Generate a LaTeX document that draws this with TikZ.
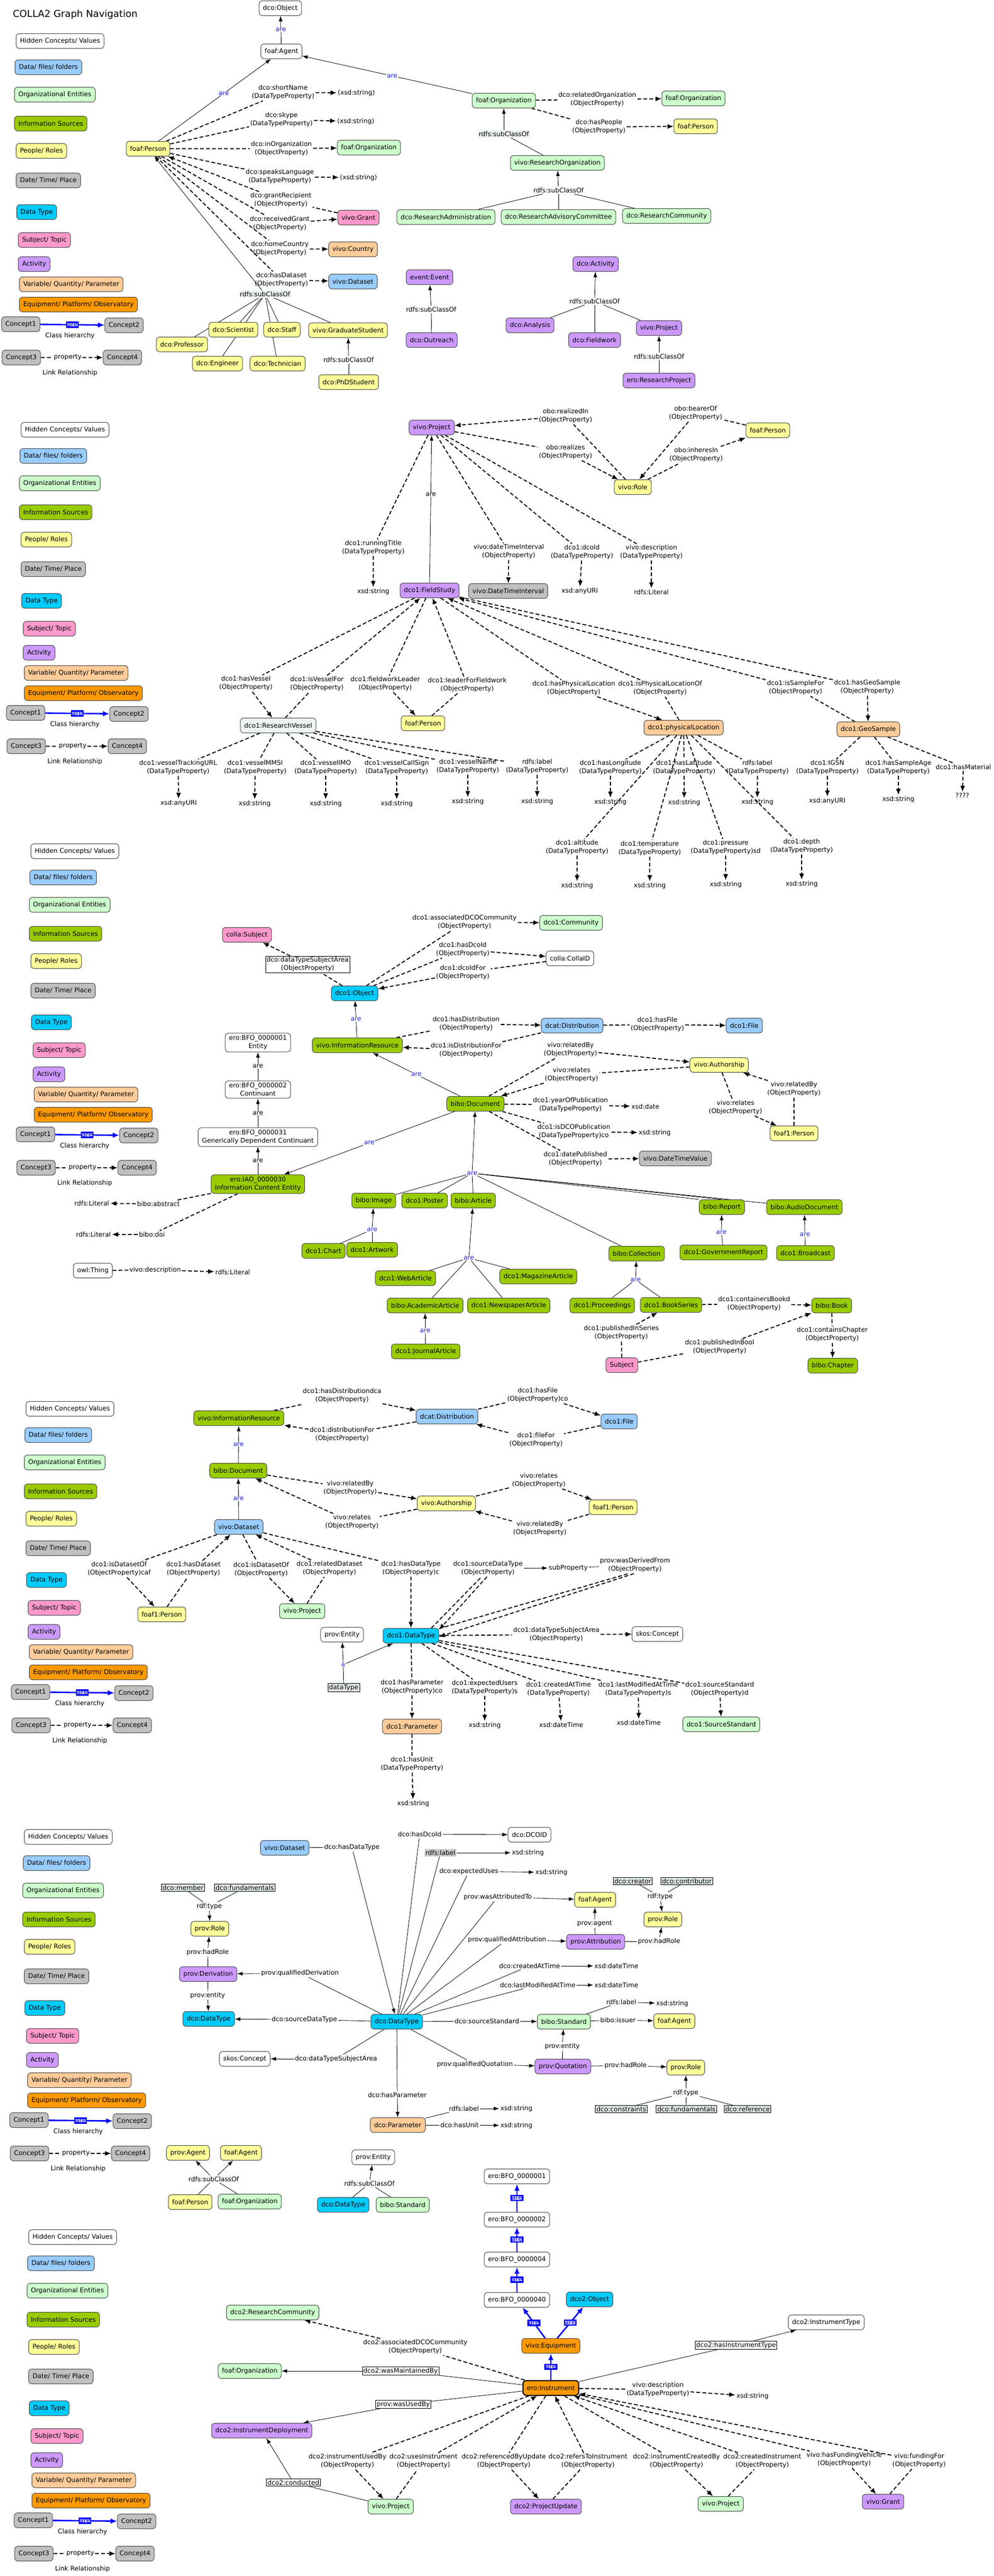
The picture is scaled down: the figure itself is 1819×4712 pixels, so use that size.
\documentclass[tikz,border=0pt]{standalone}
\usepackage{fontspec}
\setmainfont{DejaVu Sans}
\usetikzlibrary{arrows.meta,backgrounds}
\definecolor{cData}{HTML}{99CCFF}
\definecolor{cOrg}{HTML}{CCFFCC}
\definecolor{cInfo}{HTML}{99CC00}
\definecolor{cPeople}{HTML}{FFFF99}
\definecolor{cDate}{HTML}{C0C0C0}
\definecolor{cType}{HTML}{00CCFF}
\definecolor{cSubj}{HTML}{FF99CC}
\definecolor{cAct}{HTML}{CC99FF}
\definecolor{cVar}{HTML}{FFCC99}
\definecolor{cEquip}{HTML}{FF9900}
\definecolor{cTag}{HTML}{E4ECEC}
\definecolor{cVessel}{HTML}{EEF4F4}
\definecolor{cAre}{HTML}{2222DD}

% colour key, repeated beside every part
\newcommand{\colorkey}[3]{%
\begin{scope}[shift={(#2,#3)}]
\node[hid, anchor=west] (#1a) at (29,0) {Hidden Concepts/ Values};
\node[dat, anchor=west] (#1b) at (27,48) {Data/ files/ folders};
\node[org, anchor=west] (#1c) at (26,98) {Organizational Entities};
\node[inf, anchor=west] (#1d) at (26,151) {Information Sources};
\node[ppl, anchor=west] (#1e) at (29,201) {People/ Roles};
\node[dte, anchor=west] (#1f) at (29,255) {Date/ Time/ Place};
\node[dty, anchor=west] (#1g) at (30,313) {Data Type};
\node[sbj, anchor=west] (#1h) at (33,364) {Subject/ Topic};
\node[act, anchor=west] (#1i) at (33,408) {Activity};
\node[var, anchor=west] (#1j) at (35,445) {Variable/ Quantity/ Parameter};
\node[eqp, anchor=west] (#1k) at (35,482) {Equipment/ Platform/ Observatory};
\node[dte] (#1c1) at (38,518) {Concept1};
\node[dte] (#1c2) at (227,520) {Concept2};
\draw[ba] (#1c1) -- node[arebox] {are} (#1c2);
\node (#1ch) at (128,539) {Class hierarchy};
\node[dte] (#1c3) at (39,579) {Concept3};
\node[dte] (#1c4) at (224,579) {Concept4};
\node[lbl] (#1p) at (124,579) {property};
\draw[pl] (#1c3) -- (#1p);
\draw[pa] (#1p) -- (#1c4);
\node (#1lr) at (128,607) {Link Relationship};
\end{scope}}

\begin{document}
\begin{tikzpicture}[x=1pt, y=-1pt, every node/.style={font=\fontsize{11.8}{15}\selectfont}]
\tikzset{
  nbox/.style={draw=black!70, line width=1pt, rounded corners=6pt, minimum height=27pt, inner xsep=7pt, inner ysep=4pt, align=center},
  hid/.style={nbox, fill=white},
  dat/.style={nbox, fill=cData},
  org/.style={nbox, fill=cOrg},
  inf/.style={nbox, fill=cInfo},
  ppl/.style={nbox, fill=cPeople},
  dte/.style={nbox, fill=cDate},
  dty/.style={nbox, fill=cType},
  sbj/.style={nbox, fill=cSubj},
  act/.style={nbox, fill=cAct},
  var/.style={nbox, fill=cVar},
  eqp/.style={nbox, fill=cEquip},
  lbl/.style={align=center, inner sep=2pt},
  tagbox/.style={draw, line width=.6pt, fill=cTag, inner sep=2pt, align=center},
  arelbl/.style={text=cAre, fill=white, inner sep=1pt},
  arebox/.style={draw=blue, fill=blue!15, text=blue, inner sep=1pt},
  pl/.style={line width=1.8pt, dash pattern=on 7pt off 4pt},
  pa/.style={pl, -{Latex[length=11pt,width=9pt]}},
  sl/.style={line width=.8pt},
  sa/.style={sl, -{Latex[length=10pt,width=7pt]}},
  ba/.style={line width=2.6pt, blue, -{Latex[length=12pt,width=10pt]}},
}
\useasboundingbox (0,0) rectangle (1819,4712);
\begin{scope}[on background layer]
\fill[white] (0,0) rectangle (1819,4712);
\end{scope}

% ---- part 1: agents and organizations ----
\node[anchor=west, font=\fontsize{17.5}{21}\selectfont] (title) at (20,27) {COLLA2 Graph Navigation};
\colorkey{k1}{0}{75}
\node[hid] (obj) at (513,15) {dco:Object};
\node[hid] (agent) at (515,94) {foaf:Agent};
\node[ppl] (person) at (271,272) {foaf:Person};
\node[org] (orga) at (922,184) {foaf:Organization};
\node[lbl] (lShort) at (518,169) {dco:shortName\\(DataTypeProperty)};
\node[lbl] (sShort) at (652,170) {(xsd:string)};
\node[lbl] (lSkype) at (515,219) {dco:skype\\(DataTypeProperty)};
\node[lbl] (sSkype) at (651,222) {(xsd:string)};
\node[lbl] (lInOrg) at (515,272) {dco:inOrganization\\(ObjectProperty)};
\node[org] (orgb) at (675,270) {foaf:Organization};
\node[lbl] (lSpeak) at (512,323) {dco:speaksLanguage\\(DataTypeProperty)};
\node[lbl] (sSpeak) at (656,325) {(xsd:string)};
\node[lbl] (lGrantR) at (514,366) {dco:grantRecipient\\(ObjectProperty)};
\node[sbj] (grant) at (656,398) {vivo:Grant};
\node[lbl] (lRecv) at (512,409) {dco:receivedGrant\\(ObjectProperty)};
\node[lbl] (lHome) at (512,455) {dco:homeCountry\\(ObjectProperty)};
\node[var] (country) at (646,456) {vivo:Country};
\node[lbl] (lHasDS) at (515,512) {dco:hasDataset\\(ObjectProperty)};
\node[dat] (dataset) at (646,515) {vivo:Dataset};
\node[lbl, fill=cVessel] (lSub1) at (485,538) {rdfs:subClassOf};
\node[ppl] (sci) at (427,603) {dco:Scientist};
\node[ppl] (staff) at (516,603) {dco:Staff};
\node[ppl] (grad) at (637,604) {vivo:GraduateStudent};
\node[ppl] (prof) at (333,630) {dco:Professor};
\node[ppl] (eng) at (398,665) {dco:Engineer};
\node[ppl] (tech) at (508,665) {dco:Technician};
\node[lbl] (lSub2) at (638,658) {rdfs:subClassOf};
\node[ppl] (phd) at (638,699) {dco:PhDStudent};
\node[lbl, fill=cVessel] (lSub3) at (922,245) {rdfs:subClassOf};
\node[org] (ro) at (1020,298) {vivo:ResearchOrganization};
\node[lbl] (lSub4) at (1022,348) {rdfs:subClassOf};
\node[org] (radm) at (816,397) {dco:ResearchAdministration};
\node[org] (radv) at (1022,397) {dco:ResearchAdvisoryCommittee};
\node[org] (rcom) at (1220,395) {dco:ResearchCommunity};
\node[lbl] (lRelOrg) at (1093,182) {dco:relatedOrganization\\(ObjectProperty)};
\node[org] (orgc) at (1269,180) {foaf:Organization};
\node[lbl] (lPeople) at (1096,232) {dco:hasPeople\\(ObjectProperty)};
\node[ppl] (personb) at (1273,231) {foaf:Person};
\node[act] (activ) at (1090,483) {dco:Activity};
\node[lbl] (lSub5) at (1088,551) {rdfs:subClassOf};
\node[act] (ana) at (970,595) {dco:Analysis};
\node[act] (fw) at (1088,622) {dco:Fieldwork};
\node[act] (projA) at (1206,600) {vivo:Project};
\node[lbl] (lSub6) at (1206,652) {rdfs:subClassOf};
\node[act] (rproj) at (1206,696) {ero:ResearchProject};
\node[act] (event) at (786,507) {event:Event};
\node[lbl] (lSub7) at (789,566) {rdfs:subClassOf};
\node[act] (outr) at (790,622) {dco:Outreach};

% ---- part 2: projects and field studies ----
\colorkey{k2}{9}{786}
\node[act] (proj) at (790,782) {vivo:Project};
\node[lbl] (lRealIn) at (1035,761) {obo:realizedIn\\(ObjectProperty)};
\node[lbl] (lReal) at (1035,827) {obo:realizes\\(ObjectProperty)};
\node[ppl] (role) at (1158,891) {vivo:Role};
\node[ppl] (personc) at (1405,787) {foaf:Person};
\node[lbl] (lBearer) at (1273,756) {obo:bearerOf\\(ObjectProperty)};
\node[lbl] (lInheres) at (1274,832) {obo:inheresIn\\(ObjectProperty)};
\node[act] (fs) at (786,1080) {dco1:FieldStudy};
\node[lbl] (lRun) at (683,1002) {dco1:runningTitle\\(DataTypeProperty)};
\node[lbl] (xRun) at (683,1082) {xsd:string};
\node[lbl] (lDTI) at (931,1009) {vivo:dateTimeInterval\\(ObjectProperty)};
\node[dte] (dti) at (930,1081) {vivo:DateTimeInterval};
\node[lbl] (lDcoId) at (1065,1010) {dco1:dcoId\\(DataTypeProperty)};
\node[lbl] (xDcoId) at (1061,1081) {xsd:anyURI};
\node[lbl] (lDesc) at (1192,1010) {vivo:description\\(DataTypeProperty)};
\node[lbl] (xDesc) at (1192,1083) {rdfs:Literal};
\node[lbl] (lHasV) at (450,1250) {dco1:hasVessel\\(ObjectProperty)};
\node[lbl] (lIsVF) at (580,1251) {dco1:isVesselFor\\(ObjectProperty)};
\node[lbl] (lFWL) at (705,1251) {dco1:fieldworkLeader\\(ObjectProperty)};
\node[lbl] (lLFF) at (855,1253) {dco1:leaderForFieldwork\\(ObjectProperty)};
\node[lbl] (lHPL) at (1050,1259) {dco1:hasPhysicalLocation\\(ObjectProperty)};
\node[lbl] (lIPL) at (1208,1259) {dco1:isPhysicalLocationOf\\(ObjectProperty)};
\node[lbl] (lISF) at (1456,1258) {dco1:isSampleFor\\(ObjectProperty)};
\node[lbl] (lHGS) at (1587,1257) {dco1:hasGeoSample\\(ObjectProperty)};
\node[hid, fill=cVessel] (rv) at (509,1327) {dco1:ResearchVessel};
\node[ppl] (persond) at (774,1323) {foaf:Person};
\node[var] (ploc) at (1251,1331) {dco1:physicalLocation};
\node[var] (geo) at (1589,1334) {dco1:GeoSample};
\node[lbl] (lVTU) at (326,1404) {dco1:vesselTrackingURL\\(DataTypeProperty)};
\node[lbl] (xVTU) at (327,1469) {xsd:anyURI};
\node[lbl] (lMMSI) at (467,1404) {dco1:vesselMMSI\\(DataTypeProperty)};
\node[lbl] (xMMSI) at (466,1470) {xsd:string};
\node[lbl] (lIMO) at (596,1404) {dco1:vesselIMO\\(DataTypeProperty)};
\node[lbl] (xIMO) at (596,1470) {xsd:string};
\node[lbl] (lCall) at (726,1404) {dco1:vesselCallSign\\(DataTypeProperty)};
\node[lbl] (xCall) at (726,1470) {xsd:string};
\node[lbl] (lVName) at (856,1402) {dco1:vesselName\\(DataTypeProperty)};
\node[lbl] (xVName) at (856,1466) {xsd:string};
\node[lbl] (lRLa) at (983,1402) {rdfs:label\\(DataTypeProperty)};
\node[lbl] (xRLa) at (983,1466) {xsd:string};
\node[lbl] (lLon) at (1117,1404) {dco1:hasLongitude\\(DataTypeProperty)};
\node[lbl] (xLon) at (1117,1467) {xsd:string};
\node[lbl] (lLat) at (1252,1404) {dco1:hasLatitude\\(DataTypeProperty)};
\node[lbl] (xLat) at (1252,1468) {xsd:string};
\node[lbl] (lRLb) at (1386,1404) {rdfs:label\\(DataTypeProperty)};
\node[lbl] (xRLb) at (1386,1467) {xsd:string};
\node[lbl] (lAlt) at (1056,1550) {dco1:altitude\\(DataTypeProperty)};
\node[lbl] (xAlt) at (1056,1620) {xsd:string};
\node[lbl] (lTemp) at (1189,1552) {dco1:temperature\\(DataTypeProperty)};
\node[lbl] (xTemp) at (1189,1620) {xsd:string};
\node[lbl] (lPres) at (1328,1550) {dco1:pressure\\(DataTypeProperty)sd};
\node[lbl] (xPres) at (1328,1618) {xsd:string};
\node[lbl] (lDepth) at (1467,1548) {dco1:depth\\(DataTypeProperty)};
\node[lbl] (xDepth) at (1467,1617) {xsd:string};
\node[lbl] (lIGSN) at (1514,1404) {dco1:IGSN\\(DataTypeProperty)};
\node[lbl] (xIGSN) at (1514,1465) {xsd:anyURI};
\node[lbl] (lAge) at (1644,1404) {dco1:hasSampleAge\\(DataTypeProperty)};
\node[lbl] (xAge) at (1644,1462) {xsd:string};
\node[lbl] (lMat) at (1763,1403) {dco1:hasMaterial};
\node[lbl] (xMat) at (1761,1455) {????};

% ---- part 3: documents ----
\colorkey{k3}{27}{1557}
\node[sbj] (subjC) at (452,1710) {colla:Subject};
\node[tagbox, fill=white] (lDTSA) at (563,1764) {dco:dataTypeSubjectArea\\(ObjectProperty)};
\node[dty] (dobj) at (649,1817) {dco1:Object};
\node[lbl] (lAssoc) at (850,1687) {dco1:associatedDCOCommunity\\(ObjectProperty)};
\node[org] (comm) at (1045,1688) {dco1:Community};
\node[lbl] (lHasDcoId) at (847,1737) {dco1:hasDcoId\\(ObjectProperty)};
\node[hid] (cid) at (1043,1753) {colla:CollaID};
\node[lbl] (lDcoIdFor) at (847,1779) {dco1:dcoIdFor\\(ObjectProperty)};
\node[inf] (ir) at (654,1912) {vivo:InformationResource};
\node[lbl] (lHasDist) at (853,1873) {dco1:hasDistribution\\(ObjectProperty)};
\node[dat] (dist) at (1047,1876) {dcat:Distribution};
\node[lbl] (lHasFile) at (1203,1874) {dco1:hasFile\\(ObjectProperty)};
\node[dat] (fileA) at (1362,1876) {dco1:File};
\node[lbl] (lIsDist) at (853,1921) {dco1:isDistributionFor\\(ObjectProperty)};
\node[hid] (bfoA) at (472,1907) {ero:BFO\_0000001\\Entity};
\node[hid] (bfoB) at (472,1993) {ero:BFO\_0000002\\Continuant};
\node[hid] (bfoC) at (472,2080) {ero:BFO\_0000031\\Generically Dependent Continuant};
\node[inf] (iao) at (472,2166) {ero:IAO\_0000030\\Information Content Entity};
\node[inf] (doc) at (870,2019) {bibo:Document};
\node[lbl] (lRelBy) at (1044,1920) {vivo:relatedBy\\(ObjectProperty)};
\node[ppl] (auth) at (1316,1948) {vivo:Authorship};
\node[lbl] (lRel) at (1046,1966) {vivo:relates\\(ObjectProperty)};
\node[lbl] (lRelBy2) at (1453,1992) {vivo:relatedBy\\(ObjectProperty)};
\node[lbl] (lRel2) at (1346,2026) {vivo:relates\\(ObjectProperty)};
\node[ppl] (fpA) at (1453,2073) {foaf1:Person};
\node[lbl] (lYear) at (1044,2021) {dco1:yearOfPublication\\(DataTypeProperty)};
\node[lbl] (xYear) at (1181,2024) {xsd:date};
\node[lbl] (lIsDCO) at (1050,2070) {dco1:isDCOPublication\\(DataTypeProperty)co};
\node[lbl] (xIsDCO) at (1198,2072) {xsd:string};
\node[lbl] (lDatePub) at (1053,2120) {dco1:datePublished\\(ObjectProperty)};
\node[dte] (dtv) at (1236,2119) {vivo:DateTimeValue};
\node[lbl] (lAbs) at (290,2202) {bibo:abstract};
\node[lbl] (litA) at (168,2201) {rdfs:Literal};
\node[lbl] (lDoi) at (278,2258) {bibo:doi};
\node[lbl] (litD) at (171,2258) {rdfs:Literal};
\node[hid] (owl) at (170,2324) {owl:Thing};
\node[lbl] (lVD) at (284,2323) {vivo:description};
\node[lbl] (litV) at (426,2327) {rdfs:Literal};
\node[arelbl] (hub) at (864,2146) {are};
\node[inf] (img) at (684,2196) {bibo:Image};
\node[inf] (poster) at (777,2196) {dco1:Poster};
\node[inf] (art) at (866,2196) {bibo:Article};
\node[inf] (rep) at (1321,2208) {bibo:Report};
\node[inf] (audio) at (1472,2208) {bibo:AudioDocument};
\node[arelbl] (hubI) at (681,2249) {are};
\node[inf] (chart) at (592,2288) {dco1:Chart};
\node[inf] (artw) at (681,2286) {dco1:Artwork};
\node[arelbl] (hubA) at (858,2301) {are};
\node[inf] (web) at (742,2338) {dco1:WebArticle};
\node[inf] (mag) at (985,2335) {dco1:MagazineArticle};
\node[inf] (acad) at (778,2388) {bibo:AcademicArticle};
\node[inf] (news) at (931,2388) {dco1:NewspaperArticle};
\node[arelbl] (hubJ) at (778,2434) {are};
\node[inf] (jour) at (779,2472) {dco1:JournalArticle};
\node[arelbl] (hubR) at (1320,2254) {are};
\node[inf] (gov) at (1324,2291) {dco1:GovernmentReport};
\node[arelbl] (hubB) at (1473,2258) {are};
\node[inf] (bcast) at (1474,2292) {dco1:Broadcast};
\node[inf] (coll) at (1165,2293) {bibo:Collection};
\node[arelbl] (hubC) at (1163,2341) {are};
\node[inf] (proc) at (1102,2388) {dco1:Proceedings};
\node[inf] (bser) at (1228,2387) {dco1:BookSeries};
\node[lbl] (lConB) at (1380,2385) {dco1:containersBookd\\(ObjectProperty)};
\node[inf] (book) at (1522,2388) {bibo:Book};
\node[lbl] (lConC) at (1523,2441) {dco1:containsChapter\\(ObjectProperty)};
\node[inf] (chap) at (1524,2498) {bibo:Chapter};
\node[lbl] (lPIS) at (1137,2438) {dco1:publishedInSeries\\(ObjectProperty)};
\node[sbj] (subjD) at (1138,2497) {Subject};
\node[lbl] (lPIB) at (1317,2464) {dco1:publishedInBool\\(ObjectProperty)};

% ---- part 4: datasets ----
\colorkey{k4}{18}{2577}
\node[inf] (irB) at (437,2594) {vivo:InformationResource};
\node[lbl] (lHD2) at (626,2553) {dco1:hasDistributiondca\\(ObjectProperty)};
\node[dat] (distB) at (818,2591) {dcat:Distribution};
\node[lbl] (lHF2) at (984,2552) {dco1:hasFile\\(ObjectProperty)co};
\node[dat] (fileB) at (1133,2600) {dco1:File};
\node[lbl] (lDF2) at (626,2624) {dco1:distributionFor\\(ObjectProperty)};
\node[lbl] (lFF2) at (981,2634) {dco1:fileFor\\(ObjectProperty)};
\node[inf] (docB) at (436,2690) {bibo:Document};
\node[dat] (ds) at (437,2793) {vivo:Dataset};
\node[lbl] (lRB3) at (641,2722) {vivo:relatedBy\\(ObjectProperty)};
\node[ppl] (authB) at (817,2750) {vivo:Authorship};
\node[lbl] (lR3) at (644,2784) {vivo:relates\\(ObjectProperty)};
\node[lbl] (lR4) at (986,2708) {vivo:relates\\(ObjectProperty)};
\node[ppl] (fpB) at (1122,2757) {foaf1:Person};
\node[lbl] (lRB4) at (988,2796) {vivo:relatedBy\\(ObjectProperty)};
\node[lbl] (lIDO1) at (218,2870) {dco1:isDatasetOf\\(ObjectProperty)caf};
\node[lbl] (lHDS) at (354,2870) {dco1:hasDataset\\(ObjectProperty)};
\node[lbl] (lIDO2) at (478,2871) {dco1:isDatasetOf\\(ObjectProperty)};
\node[lbl] (lRDS) at (603,2869) {dco1:relatedDataset\\(ObjectProperty)};
\node[lbl] (lHDT) at (752,2869) {dco1:hasDataType\\(ObjectProperty)c};
\node[ppl] (fpC) at (296,2953) {foaf1:Person};
\node[org] (vp) at (553,2947) {vivo:Project};
\node[dty] (dt) at (752,2992) {dco1:DataType};
\node[lbl] (lSDT) at (893,2869) {dco1:sourceDataType\\(ObjectProperty)};
\node[lbl] (lSubP) at (1040,2868) {subProperty};
\node[lbl] (lWDF) at (1162,2863) {prov:wasDerivedFrom\\(ObjectProperty)};
\node[hid] (pent) at (626,2990) {prov:Entity};
\node[tagbox] (dtag) at (629,3087) {dataType};
\node[arelbl] (hubT) at (628,3045) {a};
\node[lbl] (lDTSA2) at (1018,2990) {dco1:dataTypeSubjectArea\\(ObjectProperty)};
\node[hid] (skos) at (1203,2989) {skos:Concept};
\node[lbl] (lHP) at (754,3086) {dco1:hasParameter\\(ObjectProperty)co};
\node[var] (par) at (754,3158) {dco1:Parameter};
\node[lbl] (lEU) at (887,3087) {dco1:expectedUsers\\(DataTypeProperty)s};
\node[lbl] (xEU) at (887,3156) {xsd:string};
\node[lbl] (lCAT) at (1022,3090) {dco1:createdAtTime\\(DataTypeProperty)};
\node[lbl] (xCAT) at (1027,3155) {xsd:dateTime};
\node[lbl] (lLMT) at (1168,3090) {dco1:lastModifiedAtTime\\(DataTypeProperty)s};
\node[lbl] (xLMT) at (1169,3151) {xsd:dateTime};
\node[lbl] (lSS) at (1317,3090) {dco1:sourceStandard\\(ObjectProperty)d};
\node[org] (sstd) at (1320,3154) {dco1:SourceStandard};
\node[lbl] (lHU) at (754,3227) {dco1:hasUnit\\(DataTypeProperty)};
\node[lbl] (xHU) at (756,3299) {xsd:string};

% ---- part 5: data types ----
\colorkey{k5}{15}{3360}
\node[dty] (dtC) at (726,3698) {dco:DataType};
\node[hid] (dcoid) at (969,3356) {dco:DCOID};
\node[lbl] (lHDI) at (768,3355) {dco:hasDcoId};
\node[dat] (vds) at (521,3380) {vivo:Dataset};
\node[lbl] (lHDT5) at (644,3379) {dco:hasDataType};
\node[lbl, fill=black!20] (lRL5) at (806,3389) {rdfs:label};
\node[lbl] (xRL5) at (966,3389) {xsd:string};
\node[lbl] (lEU5) at (858,3423) {dco:expectedUses};
\node[lbl] (xEU5) at (1009,3425) {xsd:string};
\node[lbl] (lWAT) at (911,3470) {prov:wasAttributedTo};
\node[ppl] (faA) at (1089,3475) {foaf:Agent};
\node[act] (attr) at (1090,3552) {prov:Attribution};
\node[lbl] (lAg) at (1088,3519) {prov:agent};
\node[lbl] (lQA) at (928,3548) {prov:qualifiedAttribution};
\node[lbl] (lHR5) at (1206,3551) {prov:hadRole};
\node[ppl] (roleA) at (1213,3511) {prov:Role};
\node[tagbox] (creator) at (1158,3441) {dco:creator};
\node[tagbox] (contrib) at (1257,3441) {dco:contributor};
\node[lbl] (lRT1) at (1208,3469) {rdf:type};
\node[lbl] (lCAT5) at (969,3596) {dco:createdAtTime};
\node[lbl] (xCAT5) at (1128,3596) {xsd:dateTime};
\node[lbl] (lLMT5) at (984,3631) {dco:lastModifiedAtTime};
\node[lbl] (xLMT5) at (1128,3631) {xsd:dateTime};
\node[lbl] (lSS5) at (891,3697) {dco:sourceStandard};
\node[org] (stdA) at (1032,3698) {bibo:Standard};
\node[lbl] (lRL6) at (1137,3662) {rdfs:label};
\node[lbl] (xRL6) at (1230,3665) {xsd:string};
\node[lbl] (lIss) at (1131,3695) {bibo:issuer};
\node[ppl] (faB) at (1234,3697) {foaf:Agent};
\node[act] (quot) at (1030,3780) {prov:Quotation};
\node[lbl] (lEnt) at (1029,3743) {prov:entity};
\node[lbl] (lQQ) at (869,3776) {prov:qualifiedQuotation};
\node[lbl] (lHR6) at (1145,3778) {prov:hadRole};
\node[ppl] (roleB) at (1255,3782) {prov:Role};
\node[lbl] (lRT2) at (1255,3828) {rdf:type};
\node[tagbox] (cons) at (1137,3858) {dco:constraints};
\node[tagbox] (fundB) at (1256,3858) {dco:fundamentals};
\node[tagbox] (refr) at (1368,3858) {dco:reference};
\node[lbl] (lHP5) at (727,3832) {dco:hasParameter};
\node[var] (parB) at (728,3887) {dco:Parameter};
\node[lbl] (lRL7) at (849,3857) {rdfs:label};
\node[lbl] (xRL7) at (945,3857) {xsd:string};
\node[lbl] (lHU5) at (841,3887) {dco:hasUnit};
\node[lbl] (xHU5) at (945,3888) {xsd:string};
\node[hid] (skosB) at (448,3766) {skos:Concept};
\node[lbl] (lDTSA5) at (615,3766) {dco:dataTypeSubjectArea};
\node[dty] (dtL) at (382,3693) {dco:DataType};
\node[lbl] (lSDT5) at (557,3694) {dco:sourceDataType};
\node[act] (deriv) at (381,3611) {prov:Derivation};
\node[lbl] (lQD) at (549,3609) {prov:qualifiedDerivation};
\node[lbl] (lEnt2) at (380,3650) {prov:entity};
\node[lbl] (lHR7) at (380,3571) {prov:hadRole};
\node[ppl] (roleC) at (384,3528) {prov:Role};
\node[lbl] (lRT3) at (383,3487) {rdf:type};
\node[tagbox] (member) at (335,3453) {dco:member};
\node[tagbox] (fundA) at (448,3453) {dco:fundamentals};
\node[ppl] (pag) at (344,3938) {prov:Agent};
\node[ppl] (fag) at (441,3938) {foaf:Agent};
\node[lbl] (lSC8) at (391,3986) {rdfs:subClassOf};
\node[ppl] (fper) at (348,4028) {foaf:Person};
\node[org] (forg) at (457,4027) {foaf:Organization};
\node[hid] (pentB) at (683,3946) {prov:Entity};
\node[lbl] (lSC9) at (676,3994) {rdfs:subClassOf};
\node[dty] (dtB) at (628,4033) {dco:DataType};
\node[org] (stdB) at (737,4033) {bibo:Standard};

% ---- part 6: instruments ----
\colorkey{k6}{23}{4092}
\node[hid] (bA) at (946,3981) {ero:BFO\_0000001};
\node[hid] (bB) at (946,4060) {ero:BFO\_0000002};
\node[hid] (bC) at (946,4133) {ero:BFO\_0000004};
\node[hid] (bD) at (946,4207) {ero:BFO\_0000040};
\node[dty] (objB) at (1079,4206) {dco2:Object};
\node[eqp] (equip) at (1008,4291) {vivo:Equipment};
\node[eqp, line width=2pt, draw=black] (inst) at (1008,4368) {ero:Instrument};
\node[org] (rcB) at (499,4230) {dco2:ResearchCommunity};
\node[lbl] (lAC) at (760,4293) {dco2:associatedDCOCommunity\\(ObjectProperty)};
\node[org] (forgB) at (457,4337) {foaf:Organization};
\node[tagbox, fill=white] (lWM) at (733,4337) {dco2:wasMaintainedBy};
\node[tagbox, fill=white] (lWU) at (738,4398) {prov:wasUsedBy};
\node[act] (idep) at (479,4446) {dco2:InstrumentDeployment};
\node[tagbox, fill=white] (lCond) at (537,4541) {dco2:conducted};
\node[hid] (itype) at (1512,4248) {dco2:InstrumentType};
\node[tagbox, fill=white] (lHIT) at (1347,4290) {dco2:hasInstrumentType};
\node[lbl] (lVD6) at (1204,4371) {vivo:description\\(DataTypeProperty)};
\node[lbl] (xVD6) at (1377,4383) {xsd:string};
\node[lbl] (lIUB) at (636,4502) {dco2:instrumentUsedBy\\(ObjectProperty)};
\node[lbl] (lUI) at (775,4502) {dco2:usesInstrument\\(ObjectProperty)};
\node[lbl] (lRBU) at (922,4502) {dco2:referencedByUpdate\\(ObjectProperty)};
\node[lbl] (lRTI) at (1076,4502) {dco2:refersToInstrument\\(ObjectProperty)};
\node[lbl] (lICB) at (1238,4502) {dco2:instrumentCreatedBy\\(ObjectProperty)};
\node[lbl] (lCI) at (1395,4502) {dco2:createdInstrument\\(ObjectProperty)};
\node[lbl] (lHFV) at (1545,4499) {vivo:hasFundingVehicle\\(ObjectProperty)};
\node[lbl] (lFF) at (1682,4501) {vivo:fundingFor\\(ObjectProperty)};
\node[org] (vpA) at (715,4585) {vivo:Project};
\node[act] (pu) at (999,4585) {dco2:ProjectUpdate};
\node[org] (vpB) at (1319,4580) {vivo:Project};
\node[act] (vgr) at (1616,4576) {vivo:Grant};

% ---- connectors ----
\begin{scope}[on background layer]
% part 1
\draw[sa] (agent) -- node[arelbl] {are} (obj);
\draw[sa] (person) -- node[arelbl, pos=.58] {are} (agent);
\draw[sa] (orga) -- node[arelbl, pos=.47] {are} (agent);
\draw[pl] (person) -- (lShort); \draw[pa] (lShort) -- (sShort);
\draw[pl] (person) -- (lSkype); \draw[pa] (lSkype) -- (sSkype);
\draw[pl] (person) -- (lInOrg); \draw[pa] (lInOrg) -- (orgb);
\draw[pl] (person) -- (lSpeak); \draw[pa] (lSpeak) -- (sSpeak);
\draw[pl] (grant) -- (lGrantR); \draw[pa] (lGrantR) -- (person);
\draw[pl] (person) -- (lRecv); \draw[pa] (lRecv) -- (grant);
\draw[pl] (person) -- (lHome); \draw[pa] (lHome) -- (country);
\draw[pl] (person) -- (lHasDS); \draw[pa] (lHasDS) -- (dataset);
\draw[sa] (lSub1) -- (person);
\draw[sl] (sci) -- (lSub1); \draw[sl] (staff) -- (lSub1); \draw[sl] (grad) -- (lSub1);
\draw[sl] (prof) -- (lSub1); \draw[sl] (eng) -- (lSub1); \draw[sl] (tech) -- (lSub1);
\draw[sa] (lSub2) -- (grad); \draw[sl] (phd) -- (lSub2);
\draw[sa] (lSub3) -- (orga); \draw[sl] (ro) -- (lSub3);
\draw[sa] (lSub4) -- (ro);
\draw[sl] (radm) -- (lSub4); \draw[sl] (radv) -- (lSub4); \draw[sl] (rcom) -- (lSub4);
\draw[pl] (orga) -- (lRelOrg); \draw[pa] (lRelOrg) -- (orgc);
\draw[pl] (orga) -- (lPeople); \draw[pa] (lPeople) -- (personb);
\draw[sa] (lSub5) -- (activ);
\draw[sl] (ana) -- (lSub5); \draw[sl] (fw) -- (lSub5); \draw[sl] (projA) -- (lSub5);
\draw[sa] (lSub6) -- (projA); \draw[sl] (rproj) -- (lSub6);
\draw[sa] (lSub7) -- (event); \draw[sl] (outr) -- (lSub7);
% part 2
\draw[pl] (role) -- (lRealIn); \draw[pa] (lRealIn) -- (proj);
\draw[pl] (proj) -- (lReal); \draw[pa] (lReal) -- (role);
\draw[pl] (personc) -- (lBearer); \draw[pa] (lBearer) -- (role);
\draw[pl] (role) -- (lInheres); \draw[pa] (lInheres) -- (personc);
\draw[sa] (fs) -- node[arelbl, text=black, pos=.6] {are} (proj);
\draw[pl] (proj) -- (lRun); \draw[pa] (lRun) -- (xRun);
\draw[pl] (proj) -- (lDTI); \draw[pa] (lDTI) -- (dti);
\draw[pl] (proj) -- (lDcoId); \draw[pa] (lDcoId) -- (xDcoId);
\draw[pl] (proj) -- (lDesc); \draw[pa] (lDesc) -- (xDesc);
\draw[pl] (fs) -- (lHasV); \draw[pa] (lHasV) -- (rv);
\draw[pl] (rv) -- (lIsVF); \draw[pa] (lIsVF) -- (fs);
\draw[pl] (fs) -- (lFWL); \draw[pa] (lFWL) -- (persond);
\draw[pl] (persond) -- (lLFF); \draw[pa] (lLFF) -- (fs);
\draw[pl] (fs) -- (lHPL); \draw[pa] (lHPL) -- (ploc);
\draw[pl] (ploc) -- (lIPL); \draw[pa] (lIPL) -- (fs);
\draw[pl] (geo) -- (lISF); \draw[pa] (lISF) -- (fs);
\draw[pl] (fs) -- (lHGS); \draw[pa] (lHGS) -- (geo);
\draw[pl] (rv) -- (lVTU); \draw[pa] (lVTU) -- (xVTU);
\draw[pl] (rv) -- (lMMSI); \draw[pa] (lMMSI) -- (xMMSI);
\draw[pl] (rv) -- (lIMO); \draw[pa] (lIMO) -- (xIMO);
\draw[pl] (rv) -- (lCall); \draw[pa] (lCall) -- (xCall);
\draw[pl] (rv) -- (lVName); \draw[pa] (lVName) -- (xVName);
\draw[pl] (rv) -- (lRLa); \draw[pa] (lRLa) -- (xRLa);
\draw[pl] (ploc) -- (lLon); \draw[pa] (lLon) -- (xLon);
\draw[pl] (ploc) -- (lLat); \draw[pa] (lLat) -- (xLat);
\draw[pl] (ploc) -- (lRLb); \draw[pa] (lRLb) -- (xRLb);
\draw[pl] (ploc) -- (lAlt); \draw[pa] (lAlt) -- (xAlt);
\draw[pl] (ploc) -- (lTemp); \draw[pa] (lTemp) -- (xTemp);
\draw[pl] (ploc) -- (lPres); \draw[pa] (lPres) -- (xPres);
\draw[pl] (ploc) -- (lDepth); \draw[pa] (lDepth) -- (xDepth);
\draw[pl] (geo) -- (lIGSN); \draw[pa] (lIGSN) -- (xIGSN);
\draw[pl] (geo) -- (lAge); \draw[pa] (lAge) -- (xAge);
\draw[pl] (geo) -- (lMat); \draw[pa] (lMat) -- (xMat);
% part 3
\draw[pl] (dobj) -- (lDTSA); \draw[pa] (lDTSA) -- (subjC);
\draw[pl] (dobj) -- (lAssoc); \draw[pa] (lAssoc) -- (comm);
\draw[pl] (dobj) -- (lHasDcoId); \draw[pa] (lHasDcoId) -- (cid);
\draw[pl] (cid) -- (lDcoIdFor); \draw[pa] (lDcoIdFor) -- (dobj);
\draw[sa] (ir) -- node[arelbl] {are} (dobj);
\draw[pl] (ir) -- (lHasDist); \draw[pa] (lHasDist) -- (dist);
\draw[pl] (dist) -- (lHasFile); \draw[pa] (lHasFile) -- (fileA);
\draw[pl] (dist) -- (lIsDist); \draw[pa] (lIsDist) -- (ir);
\draw[sa] (bfoB) -- node[arelbl, text=black] {are} (bfoA);
\draw[sa] (bfoC) -- node[arelbl, text=black] {are} (bfoB);
\draw[sa] (iao) -- node[arelbl, text=black] {are} (bfoC);
\draw[sa] (doc) -- node[arelbl] {are} (ir);
\draw[sa] (doc) -- node[arelbl] {are} (iao);
\draw[pl] (doc) -- (lRelBy); \draw[pa] (lRelBy) -- (auth);
\draw[pl] (auth) -- (lRel); \draw[pa] (lRel) -- (doc);
\draw[pl] (fpA) -- (lRelBy2); \draw[pa] (lRelBy2) -- (auth);
\draw[pl] (auth) -- (lRel2); \draw[pa] (lRel2) -- (fpA);
\draw[pl] (doc) -- (lYear); \draw[pa] (lYear) -- (xYear);
\draw[pl] (doc) -- (lIsDCO); \draw[pa] (lIsDCO) -- (xIsDCO);
\draw[pl] (doc) -- (lDatePub); \draw[pa] (lDatePub) -- (dtv);
\draw[pl] (iao) -- (lAbs); \draw[pa] (lAbs) -- (litA);
\draw[pl] (iao) -- (lDoi); \draw[pa] (lDoi) -- (litD);
\draw[pl] (owl) -- (lVD); \draw[pa] (lVD) -- (litV);
\draw[sa] (hub) -- (doc);
\draw[sl] (img) -- (hub); \draw[sl] (poster) -- (hub); \draw[sl] (art) -- (hub);
\draw[sl] (rep.north west) -- (hub); \draw[sl] (rep.north) -- (hub); \draw[sl] (audio) -- (hub);
\draw[sl] (coll) -- (hub);
\draw[sa] (hubI) -- (img); \draw[sl] (chart) -- (hubI); \draw[sl] (artw) -- (hubI);
\draw[sa] (hubA) -- (art);
\draw[sl] (web) -- (hubA); \draw[sl] (mag) -- (hubA); \draw[sl] (acad) -- (hubA); \draw[sl] (news) -- (hubA);
\draw[sa] (hubJ) -- (acad); \draw[sl] (jour) -- (hubJ);
\draw[sa] (hubR) -- (rep); \draw[sl] (gov) -- (hubR);
\draw[sa] (hubB) -- (audio); \draw[sl] (bcast) -- (hubB);
\draw[sa] (hubC) -- (coll); \draw[sl] (proc) -- (hubC); \draw[sl] (bser) -- (hubC);
\draw[pl] (bser) -- (lConB); \draw[pa] (lConB) -- (book);
\draw[pl] (book) -- (lConC); \draw[pa] (lConC) -- (chap);
\draw[pl] (subjD) -- (lPIS); \draw[pa] (lPIS) -- (bser);
\draw[pl] (subjD) -- (lPIB); \draw[pa] (lPIB) -- (book);
% part 4
\draw[pl] (irB) -- (lHD2); \draw[pa] (lHD2) -- (distB);
\draw[pl] (distB) -- (lHF2); \draw[pa] (lHF2) -- (fileB);
\draw[pl] (distB) -- (lDF2); \draw[pa] (lDF2) -- (irB);
\draw[pl] (fileB) -- (lFF2); \draw[pa] (lFF2) -- (distB);
\draw[sa] (docB) -- node[arelbl] {are} (irB);
\draw[sa] (ds) -- node[arelbl] {are} (docB);
\draw[pl] (docB) -- (lRB3); \draw[pa] (lRB3) -- (authB);
\draw[pl] (authB) -- (lR3); \draw[pa] (lR3) -- (docB);
\draw[pl] (authB) -- (lR4); \draw[pa] (lR4) -- (fpB);
\draw[pl] (fpB) -- (lRB4); \draw[pa] (lRB4) -- (authB);
\draw[pl] (ds) -- (lIDO1); \draw[pa] (lIDO1) -- (fpC);
\draw[pl] (fpC) -- (lHDS); \draw[pa] (lHDS) -- (ds);
\draw[pl] (ds) -- (lIDO2); \draw[pa] (lIDO2) -- (vp);
\draw[pl] (vp) -- (lRDS); \draw[pa] (lRDS) -- (ds);
\draw[pl] (ds) -- (lHDT); \draw[pa] (lHDT) -- (dt);
\draw[pl] ([xshift=-14pt]dt.north east) -- ([xshift=-12pt]lSDT.south);
\draw[pa] ([xshift=-2pt]lSDT.south) -- ([yshift=-3pt]dt.north east);
\draw[sa] (lSDT) -- (lSubP); \draw[sl] (lSubP) -- (lWDF);
\draw[pl] ([yshift=-1pt]dt.north east) -- ([xshift=-12pt]lWDF.south);
\draw[pa] ([xshift=-2pt]lWDF.south) -- ([yshift=-2pt]dt.east);
\draw[sl] (dtag) -- (hubT); \draw[sa] (hubT) -- (pent); \draw[sa] (hubT) -- (dt);
\draw[pl] (dt) -- (lDTSA2); \draw[pa] (lDTSA2) -- (skos);
\draw[pl] (dt) -- (lHP); \draw[pa] (lHP) -- (par);
\draw[pl] (dt) -- (lEU); \draw[pa] (lEU) -- (xEU);
\draw[pl] (dt) -- (lCAT); \draw[pa] (lCAT) -- (xCAT);
\draw[pl] (dt) -- (lLMT); \draw[pa] (lLMT) -- (xLMT);
\draw[pl] (dt) -- (lSS); \draw[pa] (lSS) -- (sstd);
\draw[pl] (par) -- (lHU); \draw[pa] (lHU) -- (xHU);
% part 5
\draw[sl] (dtC) -- (lHDI); \draw[sa] (lHDI) -- (dcoid);
\draw[sl] (vds) -- (lHDT5); \draw[sa] (lHDT5) -- (dtC);
\draw[sl] (dtC) -- (lRL5); \draw[sa] (lRL5) -- (xRL5);
\draw[sl] (dtC) -- (lEU5); \draw[sa] (lEU5) -- (xEU5);
\draw[sl] (dtC) -- (lWAT); \draw[sa] (lWAT) -- (faA);
\draw[sl] (dtC) -- (lQA); \draw[sa] (lQA) -- (attr);
\draw[sl] (attr) -- (lAg); \draw[sa] (lAg) -- (faA);
\draw[sl] (attr) -- (lHR5); \draw[sa] (lHR5) -- (roleA);
\draw[sl] (creator) -- (lRT1); \draw[sl] (contrib) -- (lRT1); \draw[sa] (lRT1) -- (roleA);
\draw[sl] (dtC) -- (lCAT5); \draw[sa] (lCAT5) -- (xCAT5);
\draw[sl] (dtC) -- (lLMT5); \draw[sa] (lLMT5) -- (xLMT5);
\draw[sl] (dtC) -- (lSS5); \draw[sa] (lSS5) -- (stdA);
\draw[sl] (stdA) -- (lRL6); \draw[sa] (lRL6) -- (xRL6);
\draw[sl] (stdA) -- (lIss); \draw[sa] (lIss) -- (faB);
\draw[sl] (quot) -- (lEnt); \draw[sa] (lEnt) -- (stdA);
\draw[sl] (dtC) -- (lQQ); \draw[sa] (lQQ) -- (quot);
\draw[sl] (quot) -- (lHR6); \draw[sa] (lHR6) -- (roleB);
\draw[sl] (cons) -- (lRT2); \draw[sl] (fundB) -- (lRT2); \draw[sl] (refr) -- (lRT2); \draw[sa] (lRT2) -- (roleB);
\draw[sl] (dtC) -- (lHP5); \draw[sa] (lHP5) -- (parB);
\draw[sl] (parB) -- (lRL7); \draw[sa] (lRL7) -- (xRL7);
\draw[sl] (parB) -- (lHU5); \draw[sa] (lHU5) -- (xHU5);
\draw[sl] (dtC) -- (lDTSA5); \draw[sa] (lDTSA5) -- (skosB);
\draw[sl] (dtC) -- (lSDT5); \draw[sa] (lSDT5) -- (dtL);
\draw[sl] (dtC) -- (lQD); \draw[sa] (lQD) -- (deriv);
\draw[sl] (deriv) -- (lEnt2); \draw[sa] (lEnt2) -- (dtL);
\draw[sl] (deriv) -- (lHR7); \draw[sa] (lHR7) -- (roleC);
\draw[sl] (member) -- (lRT3); \draw[sl] (fundA) -- (lRT3); \draw[sa] (lRT3) -- (roleC);
\draw[sa] (lSC8) -- (pag); \draw[sa] (lSC8) -- (fag);
\draw[sl] (fper) -- (lSC8); \draw[sl] (forg) -- (lSC8);
\draw[sa] (lSC9) -- (pentB); \draw[sl] (dtB) -- (lSC9); \draw[sl] (stdB) -- (lSC9);
% part 6
\draw[ba] (bB) -- node[arebox] {are} (bA);
\draw[ba] (bC) -- node[arebox] {are} (bB);
\draw[ba] (bD) -- node[arebox] {are} (bC);
\draw[ba] (equip) -- node[arebox] {are} (bD);
\draw[ba] (equip) -- node[arebox] {are} (objB);
\draw[ba] (inst) -- node[arebox] {are} (equip);
\draw[pl] (inst) -- (lAC); \draw[pa] (lAC) -- (rcB);
\draw[sl] (inst) -- (lWM); \draw[sa] (lWM) -- (forgB);
\draw[sl] (inst) -- (lWU); \draw[sa] (lWU) -- (idep);
\draw[sl] (vpA) -- (lCond); \draw[sa] (lCond) -- (idep);
\draw[sl] (inst) -- (lHIT); \draw[sa] (lHIT) -- (itype);
\draw[pl] (inst) -- (lVD6); \draw[pa] (lVD6) -- (xVD6);
\draw[pl] (inst) -- (lIUB); \draw[pa] (lIUB) -- (vpA);
\draw[pl] (vpA) -- (lUI); \draw[pa] (lUI) -- (inst);
\draw[pl] (inst) -- (lRBU); \draw[pa] (lRBU) -- (pu);
\draw[pl] (pu) -- (lRTI); \draw[pa] (lRTI) -- (inst);
\draw[pl] (inst) -- (lICB); \draw[pa] (lICB) -- (vpB);
\draw[pl] (vpB) -- (lCI); \draw[pa] (lCI) -- (inst);
\draw[pl] (inst) -- (lHFV); \draw[pa] (lHFV) -- (vgr);
\draw[pl] (vgr) -- (lFF); \draw[pa] (lFF) -- (inst);
\end{scope}
\end{tikzpicture}
\end{document}
